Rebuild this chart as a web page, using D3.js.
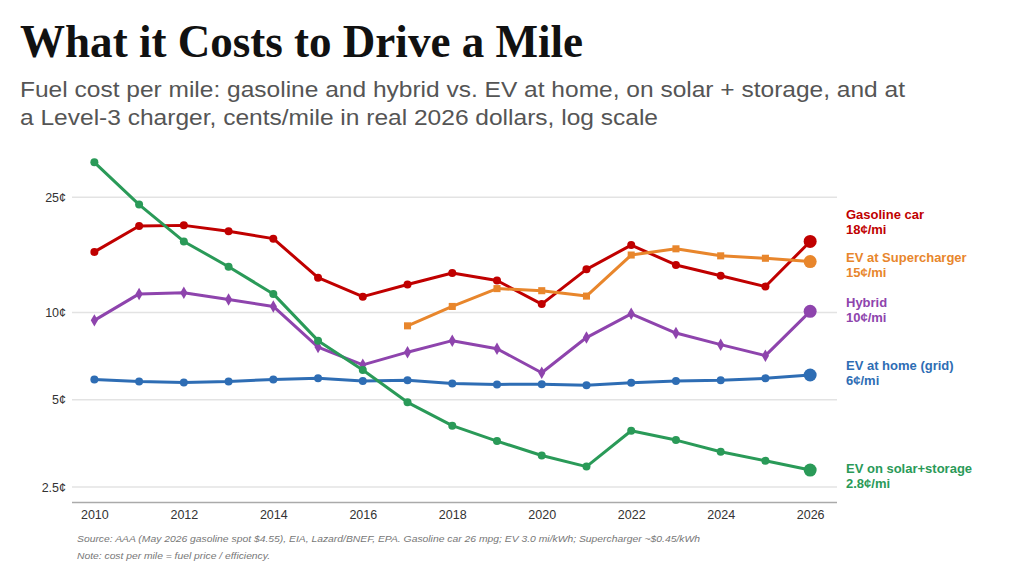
<!DOCTYPE html>
<html lang="en">
<head>
<meta charset="UTF-8">
<title>What it Costs to Drive a Mile</title>
<script src="https://d3js.org/d3.v7.min.js"></script>
<style>
  body { margin: 0; background: #fff; font-family: "Liberation Sans", Arial, sans-serif; }
  .tick text { font-size: 12.5px; fill: #333; }
</style>
</head>
<body>
<div id="chart"></div>
<script>
// Data (cents per mile, real 2026 dollars)
const years = d3.range(2010, 2027);
const gasoline = [16.2, 19.9, 20.0, 19.1, 18.0, 13.2, 11.35, 12.5, 13.7, 12.9, 10.7, 14.1, 17.1, 14.6, 13.4, 12.3, 17.6];
const supercharger = [null, null, null, null, null, null, null, 9.0, 10.5, 12.1, 11.9, 11.4, 15.8, 16.6, 15.7, 15.4, 15.0];
const hybrid = [9.4, 11.6, 11.7, 11.1, 10.5, 7.6, 6.6, 7.3, 8.0, 7.5, 6.2, 8.2, 9.9, 8.5, 7.75, 7.1, 10.1];
const evHome = [5.88, 5.78, 5.74, 5.78, 5.88, 5.93, 5.80, 5.84, 5.69, 5.65, 5.66, 5.61, 5.72, 5.80, 5.84, 5.93, 6.09];
const evSolar = [33.0, 23.6, 17.6, 14.4, 11.6, 8.0, 6.34, 4.90, 4.07, 3.60, 3.21, 2.94, 3.91, 3.63, 3.31, 3.08, 2.86];
const yTicks = [2.5, 5, 10, 25];
const xTicks = [2010, 2012, 2014, 2016, 2018, 2020, 2022, 2024, 2026];

const series = [
  { name: "Gasoline car", label: "18¢/mi", values: gasoline, color: "#c00000", shape: "circle", ly: 219 },
  { name: "EV at Supercharger", label: "15¢/mi", values: supercharger, color: "#e8862c", shape: "square", ly: 262 },
  { name: "Hybrid", label: "10¢/mi", values: hybrid, color: "#8e44ad", shape: "diamond", ly: 307 },
  { name: "EV at home (grid)", label: "6¢/mi", values: evHome, color: "#2e6db4", shape: "circle", ly: 370 },
  { name: "EV on solar+storage", label: "2.8¢/mi", values: evSolar, color: "#2a9a58", shape: "circle", ly: 473 }
];

const W = 1024, H = 577;
const plot = { left: 72, right: 837, top: 150, bottom: 502.5 };

const svg = d3.select("#chart").append("svg")
  .attr("width", W).attr("height", H);

// Title and subtitle
svg.append("text")
  .attr("x", 20).attr("y", 57)
  .attr("font-family", "'Liberation Serif', 'DejaVu Serif', serif")
  .attr("font-weight", "bold")
  .attr("font-size", 46)
  .attr("textLength", 563)
  .attr("lengthAdjust", "spacingAndGlyphs")
  .attr("fill", "#111")
  .text("What it Costs to Drive a Mile");

const sub = ["Fuel cost per mile: gasoline and hybrid vs. EV at home, on solar + storage, and at",
             "a Level-3 charger, cents/mile in real 2026 dollars, log scale"];
const subLen = [885, 638];
sub.forEach((s, i) => {
  svg.append("text")
    .attr("x", 20).attr("y", 97 + i * 28)
    .attr("font-size", 22)
    .attr("textLength", subLen[i])
    .attr("lengthAdjust", "spacingAndGlyphs")
    .attr("fill", "#555")
    .text(s);
});

// Scales
const x = d3.scaleLinear().domain([2009.5, 2026.6]).range([plot.left, plot.right]);
const y = d3.scaleLog().domain([2.5, 25]).range([487, 197.3]);

// Gridlines
svg.append("g").selectAll("line").data(yTicks).join("line")
  .attr("x1", plot.left).attr("x2", plot.right)
  .attr("y1", d => y(d)).attr("y2", d => y(d))
  .attr("stroke", "#e3e3e3").attr("stroke-width", 1.5);

// Axes
const yAxis = svg.append("g")
  .attr("transform", `translate(${plot.left},0)`)
  .call(d3.axisLeft(y).tickValues(yTicks).tickSize(0).tickPadding(6).tickFormat(d => d + "¢"));
yAxis.select(".domain").remove();

const xAxis = svg.append("g")
  .attr("transform", `translate(0,${plot.bottom})`)
  .call(d3.axisBottom(x).tickValues(xTicks).tickSize(0).tickPadding(8).tickFormat(d3.format("d")));
xAxis.select(".domain").attr("stroke", "#aaa").attr("stroke-width", 1.5)
  .attr("d", `M${plot.left},0H${plot.right}`);

// Lines and markers
const line = d3.line()
  .defined(d => d.v != null)
  .x(d => x(d.year))
  .y(d => y(d.v));

series.forEach(s => {
  const pts = years.map((yr, i) => ({ year: yr, v: s.values[i] }));
  const valid = pts.filter(d => d.v != null);
  svg.append("path")
    .datum(pts)
    .attr("fill", "none")
    .attr("stroke", s.color)
    .attr("stroke-width", 3)
    .attr("stroke-linejoin", "round")
    .attr("d", line);

  const g = svg.append("g").attr("fill", s.color);
  const body = valid.slice(0, -1);
  if (s.shape === "circle") {
    g.selectAll("circle").data(body).join("circle")
      .attr("cx", d => x(d.year)).attr("cy", d => y(d.v)).attr("r", 4);
  } else {
    const sym = d3.symbol().type(s.shape === "square" ? d3.symbolSquare : d3.symbolDiamond)
      .size(s.shape === "square" ? 50 : 45);
    g.selectAll("path").data(body).join("path")
      .attr("transform", d => `translate(${x(d.year)},${y(d.v)})`)
      .attr("d", sym);
  }
  const last = valid[valid.length - 1];
  g.append("circle")
    .attr("cx", x(last.year)).attr("cy", y(last.v)).attr("r", 6.5);

  // End labels
  const t = svg.append("text")
    .attr("x", 846).attr("y", s.ly)
    .attr("font-size", 13).attr("font-weight", "bold")
    .attr("fill", s.color);
  t.append("tspan").attr("x", 846).text(s.name);
  t.append("tspan").attr("x", 846).attr("dy", 14.5).text(s.label);
});

// Footnotes
const notes = ["Source: AAA (May 2026 gasoline spot $4.55), EIA, Lazard/BNEF, EPA. Gasoline car 26 mpg; EV 3.0 mi/kWh; Supercharger ~$0.45/kWh",
               "Note: cost per mile = fuel price / efficiency."];
const noteLen = [623, 193];
notes.forEach((n, i) => {
  svg.append("text")
    .attr("x", 77).attr("y", 542 + i * 17)
    .attr("font-size", 9.5).attr("font-style", "italic")
    .attr("textLength", noteLen[i])
    .attr("lengthAdjust", "spacingAndGlyphs")
    .attr("fill", "#777")
    .text(n);
});
</script>
</body>
</html>
